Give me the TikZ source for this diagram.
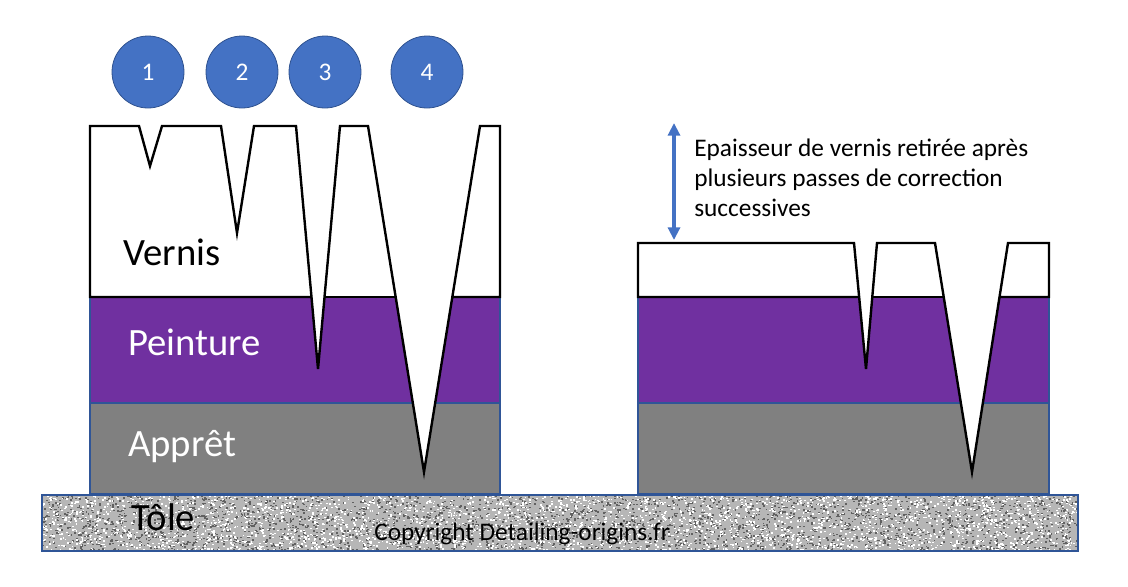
\documentclass[tikz,border=0pt]{standalone}
\usepackage{fontspec}
\setmainfont{Carlito}
\usetikzlibrary{arrows.meta}
\definecolor{purp}{RGB}{112,48,160}
\definecolor{apgray}{RGB}{128,128,128}
\definecolor{edgeblue}{RGB}{47,85,151}
\definecolor{accent}{RGB}{68,114,196}
\definecolor{ringblue}{RGB}{47,82,143}
\definecolor{plate}{RGB}{182,182,182}

\begin{document}
\begin{tikzpicture}[x=0.75pt, y=-0.75pt,
  layer/.style={draw=edgeblue, line width=1.2pt},
  vern/.style={draw=black, line width=1.8pt},
  biglabel/.style={anchor=base west, inner sep=0pt, font=\fontsize{29}{35}\selectfont},
  pastille/.style={circle, fill=accent, draw=ringblue, line width=0.6pt, minimum size=54pt,
    inner sep=0pt, text=white, font=\fontsize{19}{23}\selectfont}]
\useasboundingbox (0,0) rectangle (1128,586);

% ---- tole (speckled steel plate) ----
\fill[plate] (42,495) rectangle (1078,551);
\begin{scope}
  \clip (42,495) rectangle (1078,551);
  \pgfmathsetseed{42}
  \foreach \i in {1,...,3200}{
    \pgfmathsetmacro\px{42+1036*rnd}
    \pgfmathsetmacro\py{495+56*rnd}
    \fill[black!62] (\px,\py) rectangle ++(1.8,1.4);
  }
  \foreach \i in {1,...,3200}{
    \pgfmathsetmacro\px{42+1036*rnd}
    \pgfmathsetmacro\py{495+56*rnd}
    \fill[white] (\px,\py) rectangle ++(1.8,1.4);
  }
\end{scope}
\draw[edgeblue, line width=1pt] (42,495) rectangle (1078,551);

% ---- left block: before correction ----
\filldraw[layer, fill=purp] (90,297) rectangle (500,403);
\filldraw[layer, fill=apgray] (90,403) rectangle (500,494);
\fill[white] (90,126) rectangle (500,297);
\fill[white] (311.5,297) -- (318,369) -- (324.5,297) -- cycle;
\fill[white] (395.7,297) -- (424,472) -- (452.3,297) -- cycle;
% vernis outline with scratches 1 to 4
\draw[vern] (311.5,297) -- (90,297) -- (90,126) -- (139,126) -- (150,166) -- (162,126)
  -- (221,126) -- (237,233) -- (254,126) -- (296,126) -- (318,369) -- (340,126)
  -- (368,126) -- (424,472) -- (480,126) -- (500,126) -- (500,297) -- (452.3,297);
\draw[vern] (324.5,297) -- (395.7,297);

% ---- right block: after correction ----
\filldraw[layer, fill=purp] (638,297) rectangle (1049,403);
\filldraw[layer, fill=apgray] (638,403) rectangle (1049,494);
\fill[white] (638,243) rectangle (1049,297);
\fill[white] (859.1,297) -- (866,369) -- (872.3,297) -- cycle;
\fill[white] (943.7,297) -- (972,472) -- (999.5,297) -- cycle;
\draw[vern] (859.1,297) -- (638,297) -- (638,243) -- (854,243) -- (866,369) -- (877,243)
  -- (935,243) -- (972,472) -- (1008,243) -- (1049,243) -- (1049,297) -- (999.5,297);
\draw[vern] (872.3,297) -- (943.7,297);

% ---- numbered scratches ----
\foreach \n/\cx in {1/148, 2/242, 3/325, 4/427}
  \node[pastille] (c\n) at (\cx,72) {\n};

% ---- layer labels ----
\node[biglabel] (vernis) at (123,265) {Vernis};
\node[biglabel, text=white] (peinture) at (128,355) {Peinture};
\node[biglabel, text=white] (appret) at (128,456) {Apprêt};
\node[biglabel] (tole) at (131,530) {Tôle};
\node[anchor=base west, inner sep=0pt, font=\fontsize{19}{23}\selectfont] (copyright) at (374,540)
  {Copyright Detailing-origins.fr};

% ---- removed thickness ----
\coordinate (ep top) at (674,123);
\coordinate (ep bot) at (674,240);
\draw[accent, line width=2.6pt, {Triangle[width=9pt,length=9.5pt]}-{Triangle[width=9pt,length=9.5pt]}]
  (ep top) -- (ep bot);
\node[anchor=base west, inner sep=0pt, align=left, font=\fontsize{19}{22.2}\selectfont] (note) at (694,216)
  {Epaisseur de vernis retirée après\\plusieurs passes de correction\\successives};
\end{tikzpicture}
\end{document}
